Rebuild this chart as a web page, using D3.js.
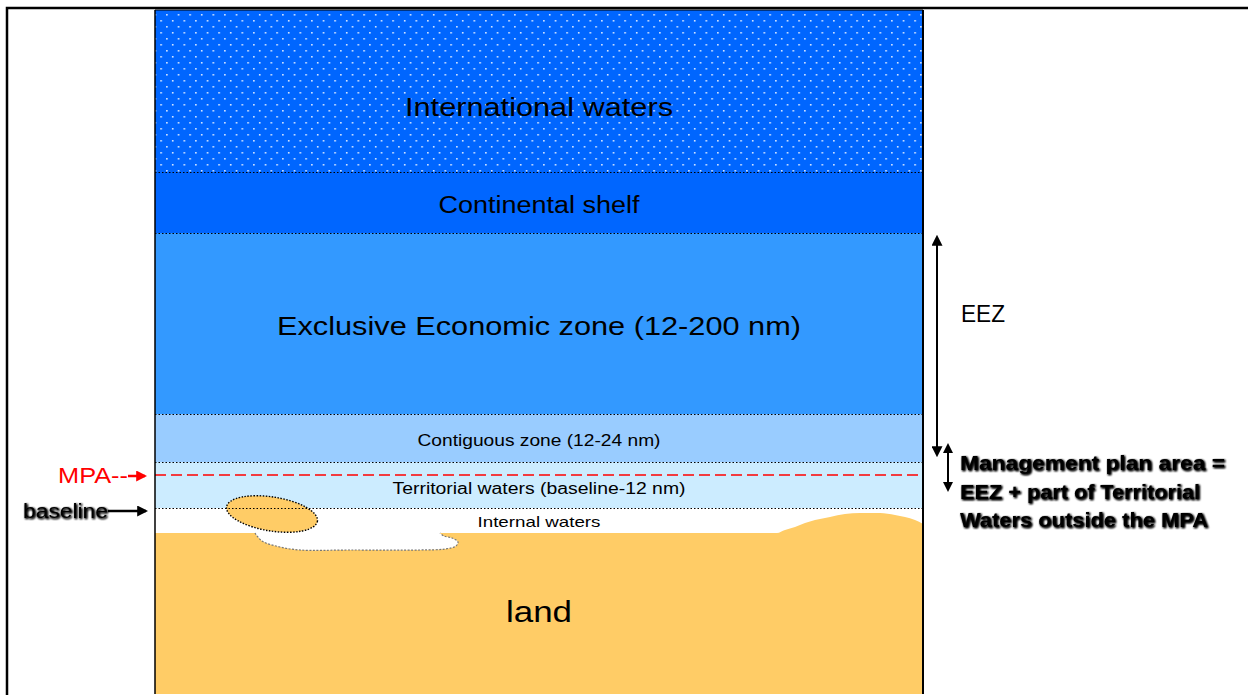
<!DOCTYPE html>
<html><head><meta charset="utf-8">
<script src="https://cdn.jsdelivr.net/npm/d3@7/dist/d3.min.js"></script>
<style>html,body{margin:0;padding:0;background:#fff;}svg{display:block;font-family:"Liberation Sans",Arial,sans-serif;}</style>
</head><body>
<script>
// ---- data (diagram units: panel offsets) ----
const zoneNames = ["International waters","Continental shelf","Exclusive Economic zone (12-200 nm)","Contiguous zone (12-24 nm)","Territorial waters (baseline-12 nm)","Internal waters"];
const zoneTops    = [0, 162, 223, 404, 452, 498];
const zoneBottoms = [162, 223, 404, 452, 498, 523];
const zoneColors  = ["#0066FF","#0066FF","#3399FF","#99CCFF","#CCECFF","#FFFFFF"];
const zoneFontSizes = [26, 23, 26, 16, 16, 15];
const zoneTextLen   = [268, 201, 524, 243, 293, 123];
const zoneTextBase  = [106, 203, 325, 436, 484, 517];
const boundaryLines = [162, 223, 404, 452, 498];
const mpaLine = 465;
const landProfileX = [0, 622, 630, 640, 650, 660, 675, 690, 705, 725, 740, 750, 760, 768];
const landProfileY = [523, 523, 520, 517, 513, 510, 507, 504, 503, 503, 505, 507, 510, 514];
const inletX = [100, 107, 125, 145, 195, 265, 290, 301, 303, 297, 289, 285];
const inletY = [523, 531, 537, 540, 540, 540, 539, 536, 532, 528, 526, 523];
const island = {cx: 117, cy: 504, rx: 46, ry: 17, angle: 9};
const eezArrow = {x: 782, y1: 227, y2: 445};
const mgmtArrow = {x: 793, y1: 435, y2: 480};
const mgmtLines = ["Management plan area =","EEZ + part of Territorial","Waters outside the MPA"];
const mgmtLens = [265, 240, 248];

const W = 1248, H = 695;
const x = d3.scaleLinear().domain([0, 768]).range([155, 923]);
const y = d3.scaleLinear().domain([0, 684]).range([10, 694]);

const svg = d3.select("body").append("svg").attr("width", W).attr("height", H);
const defs = svg.append("defs");
const pat = defs.append("pattern").attr("id","dots").attr("patternUnits","userSpaceOnUse")
  .attr("width",11.6).attr("height",12).attr("x",154.5).attr("y",14);
pat.append("rect").attr("width",11.6).attr("height",12).attr("fill","#0066FF");
pat.append("rect").attr("x",0).attr("y",0).attr("width",1.6).attr("height",1.6).attr("fill","#d6e6ff");
pat.append("rect").attr("x",5.8).attr("y",6).attr("width",1.6).attr("height",1.6).attr("fill","#d6e6ff");
const f = defs.append("filter").attr("id","smudge").attr("x","-5%").attr("y","-20%").attr("width","110%").attr("height","140%");
f.append("feGaussianBlur").attr("in","SourceAlpha").attr("stdDeviation",0.9).attr("result","b");
f.append("feOffset").attr("in","b").attr("dx",0.6).attr("dy",0.6).attr("result","o");
const fm = f.append("feMerge"); fm.append("feMergeNode").attr("in","o"); fm.append("feMergeNode").attr("in","o"); fm.append("feMergeNode").attr("in","SourceGraphic");
const mk = (id, col, w) => defs.append("marker").attr("id",id).attr("viewBox","0 0 10 10").attr("refX",8).attr("refY",5)
  .attr("markerWidth",w).attr("markerHeight",w).attr("orient","auto-start-reverse").attr("markerUnits","userSpaceOnUse")
  .append("path").attr("d","M0,0L10,5L0,10z").attr("fill", col);
mk("ab","#000",11); mk("ar","#FF0000",11); mk("as","#000",10);

// outer frame
svg.append("rect").attr("x",7).attr("y",8).attr("width",1250).attr("height",700).attr("fill","none").attr("stroke","#000").attr("stroke-width",2.5);

// zones
zoneNames.forEach((n,i)=>{
  svg.append("rect").attr("x",x(0)).attr("y",y(zoneTops[i])).attr("width",x(768)-x(0))
    .attr("height",y(zoneBottoms[i])-y(zoneTops[i])).attr("fill", i===0?"url(#dots)":zoneColors[i]);
});
// land
const landPts = landProfileX.map((v,i)=>[v,landProfileY[i]]);
const areaGen = d3.area().x(d=>x(d[0])).y0(y(684)).y1(d=>y(d[1])).curve(d3.curveMonotoneX);
svg.append("path").datum(landPts).attr("d",areaGen).attr("fill","#FFCC66");
// inlet
const inletPts = inletX.map((v,i)=>[v,inletY[i]]);
const lineGen = d3.line().x(d=>x(d[0])).y(d=>y(d[1])).curve(d3.curveCatmullRom);
svg.append("path").attr("d",lineGen(inletPts)+"Z").attr("fill","#fff");
svg.append("path").datum(inletPts).attr("d",lineGen).attr("fill","none").attr("stroke","#777").attr("stroke-width",1.2).attr("stroke-dasharray","2,1.5");
// island
svg.append("ellipse").attr("cx",x(island.cx)).attr("cy",y(island.cy)).attr("rx",island.rx).attr("ry",island.ry)
  .attr("transform",`rotate(${island.angle},${x(island.cx)},${y(island.cy)})`)
  .attr("fill","#FFCC66").attr("stroke","#000").attr("stroke-width",1.4).attr("stroke-dasharray","1.5,1.5");
// boundary dotted lines
svg.selectAll("line.bd").data(boundaryLines).join("line").attr("class","bd")
  .attr("x1",x(0)).attr("x2",x(768)).attr("y1",d=>y(d)+0.5).attr("y2",d=>y(d)+0.5)
  .attr("stroke","#000").attr("stroke-width",1).attr("stroke-dasharray","1.5,2");
// MPA dashed line
svg.append("line").attr("x1",x(0)).attr("x2",x(768)).attr("y1",y(mpaLine)).attr("y2",y(mpaLine))
  .attr("stroke","#FF0000").attr("stroke-width",1.6).attr("stroke-dasharray","11,5");
// panel border
svg.append("line").attr("x1",x(0)).attr("x2",x(0)).attr("y1",y(0)).attr("y2",y(684)).attr("stroke","#000").attr("stroke-width",1.5);
svg.append("line").attr("x1",x(768)).attr("x2",x(768)).attr("y1",y(0)).attr("y2",y(684)).attr("stroke","#000").attr("stroke-width",2);
svg.append("line").attr("x1",x(0)).attr("x2",x(768)).attr("y1",y(0)).attr("y2",y(0)).attr("stroke","#000").attr("stroke-width",1.2);

// zone labels
zoneNames.forEach((n,i)=>{
  svg.append("text").attr("x",539).attr("y",y(zoneTextBase[i])).attr("text-anchor","middle")
    .attr("font-size",zoneFontSizes[i]).attr("textLength",zoneTextLen[i]).attr("lengthAdjust","spacingAndGlyphs")
    .attr("fill","#000").text(n);
});
svg.append("text").attr("x",539).attr("y",y(612)).attr("text-anchor","middle").attr("font-size",30)
  .attr("textLength",66).attr("lengthAdjust","spacingAndGlyphs").text("land");

// left labels
svg.append("text").attr("x",58).attr("y",483).attr("font-size",22).attr("fill","#FF0000")
  .attr("textLength",70).attr("lengthAdjust","spacingAndGlyphs").text("MPA--");
svg.append("line").attr("x1",128).attr("x2",145).attr("y1",476).attr("y2",476).attr("stroke","#FF0000").attr("stroke-width",2.5).attr("marker-end","url(#ar)");
svg.append("text").attr("x",23).attr("y",518).attr("font-size",20).attr("fill","#000").attr("filter","url(#smudge)")
  .attr("textLength",85).attr("lengthAdjust","spacingAndGlyphs").text("baseline");
svg.append("line").attr("x1",108).attr("x2",146).attr("y1",511).attr("y2",511).attr("stroke","#000").attr("stroke-width",2.5).attr("marker-end","url(#ab)");

// right annotations
svg.append("line").attr("x1",x(eezArrow.x)).attr("x2",x(eezArrow.x)).attr("y1",y(eezArrow.y1)).attr("y2",y(eezArrow.y2))
  .attr("stroke","#000").attr("stroke-width",2).attr("marker-start","url(#ab)").attr("marker-end","url(#ab)");
svg.append("text").attr("x",961).attr("y",322).attr("font-size",24).attr("textLength",44).attr("lengthAdjust","spacingAndGlyphs").text("EEZ");
svg.append("line").attr("x1",x(mgmtArrow.x)).attr("x2",x(mgmtArrow.x)).attr("y1",y(mgmtArrow.y1)).attr("y2",y(mgmtArrow.y2))
  .attr("stroke","#000").attr("stroke-width",2).attr("marker-start","url(#as)").attr("marker-end","url(#as)");
mgmtLines.forEach((t,i)=>{
  svg.append("text").attr("x",960).attr("y",470+i*28.5).attr("font-size",20).attr("font-weight","bold")
    .attr("filter","url(#smudge)").attr("textLength",mgmtLens[i]).attr("lengthAdjust","spacingAndGlyphs").text(t);
});
</script>
</body></html>
